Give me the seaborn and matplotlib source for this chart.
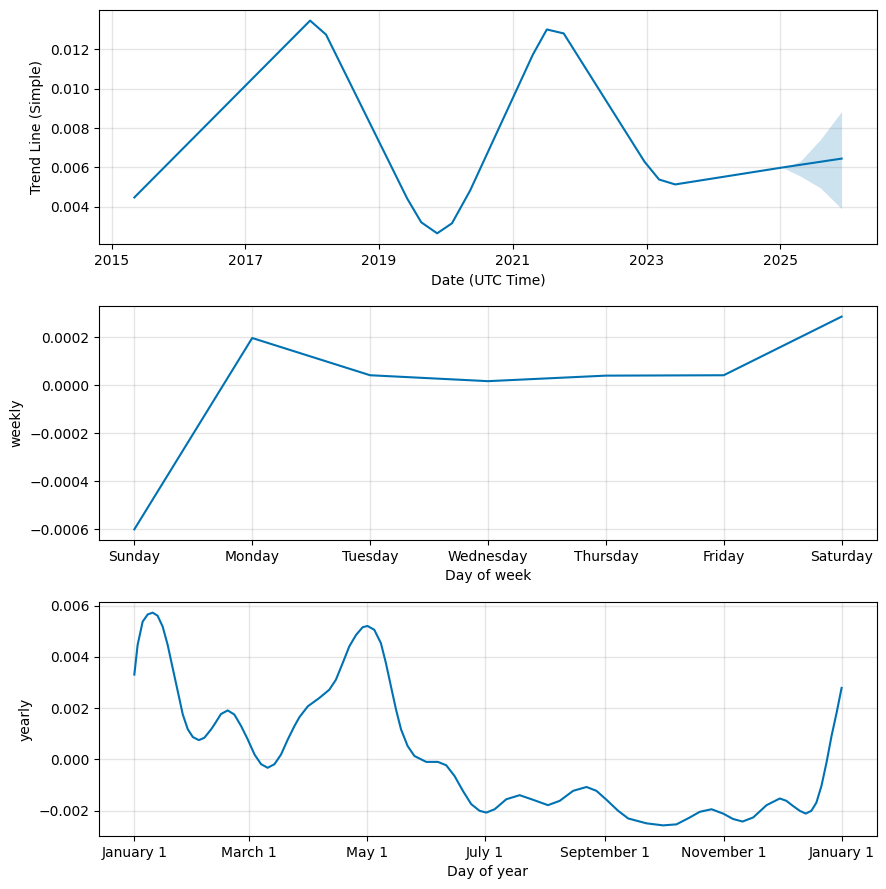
import matplotlib
matplotlib.use("Agg")
import matplotlib.pyplot as plt
import matplotlib.dates as mdates
from matplotlib.ticker import FuncFormatter
import pandas as pd
import seaborn as sns

# trend component (changepoint vertices)
trend_dates = ["2015-05-05", "2017-12-20", "2018-03-17", "2019-06-03", "2019-08-19",
               "2019-11-14", "2020-02-03", "2020-05-12", "2021-04-20", "2021-07-05",
               "2021-10-05", "2022-12-20", "2023-03-10", "2023-06-06", "2025-01-12",
               "2025-12-01"]
trend_vals = [0.00448, 0.01345, 0.01274, 0.00443, 0.00322,
              0.00266, 0.00317, 0.00483, 0.01173, 0.01300,
              0.01280, 0.00630, 0.00539, 0.00514, 0.00600,
              0.00645]
trend_ticks = ["2015", "2017", "2019", "2021", "2023", "2025"]

# forecast uncertainty band
band_dates = ["2025-01-12", "2025-02-25", "2025-04-20", "2025-08-08", "2025-12-01"]
band_upper = [0.00600, 0.00612, 0.00632, 0.00743, 0.00884]
band_lower = [0.00600, 0.00580, 0.00556, 0.00496, 0.00391]

# weekly component
week_days = ["Sunday", "Monday", "Tuesday", "Wednesday", "Thursday", "Friday", "Saturday"]
week_vals = [-0.000600, 0.000196, 0.0000411, 0.0000165, 0.0000395, 0.0000411, 0.000285]

# yearly component (day offset from Jan 1, value)
year_days = [0, 1.7, 4.3, 6.9, 9.5, 12, 14.6, 17.2, 19.8, 22.4, 25, 27.6, 30.2, 33.3,
             36.1, 39.6, 41.3, 44.7, 48.2, 51.6, 55.1, 58.5, 62, 65.4, 68.8, 72.3,
             75.7, 79.2, 82.6, 85.2, 89.5, 95.5, 100.6, 104, 107.5, 110.9, 114.4,
             117.8, 120.3, 123.8, 127.2, 129.8, 132.4, 135, 137.6, 141, 144.5, 150.6,
             156.6, 160.9, 165.2, 169.5, 173.8, 178.1, 181.6, 185.9, 191.9, 198.8,
             205.7, 213.4, 219.5, 226.4, 233.3, 238.4, 243.6, 249.6, 254.8, 257.3,
             264.2, 272.8, 279.7, 286.6, 291.7, 297.8, 303.8, 308.9, 313.8, 319.3,
             326.2, 333, 336.4, 339.8, 343.3, 346.4, 349.3, 351.9, 354.5, 357.1,
             359.7, 362.3, 364.9]
year_vals = [0.00331, 0.00447, 0.00538, 0.00566, 0.00573, 0.00561, 0.00519, 0.00447,
             0.00356, 0.00266, 0.00175, 0.00117, 0.00087, 0.00075, 0.00084, 0.00117,
             0.00136, 0.00177, 0.00191, 0.00175, 0.00130, 0.00078, 0.00019, -0.00019,
             -0.00033, -0.00019, 0.00019, 0.00078, 0.00130, 0.00165, 0.00207, 0.00240,
             0.00272, 0.00311, 0.00376, 0.00441, 0.00486, 0.00516, 0.00521, 0.00506,
             0.00454, 0.00376, 0.00285, 0.00195, 0.00117, 0.00052, 0.00013, -0.00010,
             -0.00010, -0.00023, -0.00065, -0.00123, -0.00175, -0.00201, -0.00208,
             -0.00195, -0.00156, -0.00140, -0.00158, -0.00179, -0.00162, -0.00123,
             -0.00108, -0.00123, -0.00158, -0.00201, -0.00231, -0.00236, -0.00250,
             -0.00258, -0.00254, -0.00227, -0.00205, -0.00195, -0.00212, -0.00233,
             -0.00243, -0.00227, -0.00179, -0.00153, -0.00162, -0.00182, -0.00201,
             -0.00212, -0.00201, -0.00169, -0.00104, -0.00013, 0.00091, 0.00181,
             0.00279]

LINE = "#0072B2"


def style_grid(ax):
    ax.grid(True, which="major", c="gray", ls="-", lw=1, alpha=0.2)


fig, axes = plt.subplots(3, 1, figsize=(8.86, 8.89), dpi=100)
fig.subplots_adjust(left=0.1117, right=0.9898, top=0.9888, bottom=0.0596, hspace=0.265)

# trend
ax = axes[0]
trend = pd.DataFrame({"ds": pd.to_datetime(trend_dates), "trend": trend_vals})
band = pd.DataFrame({"ds": pd.to_datetime(band_dates), "lo": band_lower, "hi": band_upper})
sns.lineplot(data=trend, x="ds", y="trend", color=LINE, ax=ax)
ax.fill_between(band["ds"], band["lo"], band["hi"], color=LINE, alpha=0.2, lw=0)
ax.set_xticks(pd.to_datetime(trend_ticks))
ax.xaxis.set_major_formatter(mdates.DateFormatter("%Y"))
style_grid(ax)
ax.set_xlabel("Date (UTC Time)")
ax.set_ylabel("Trend Line (Simple)")

# weekly
ax = axes[1]
weekly = pd.DataFrame({"i": range(len(week_days)), "weekly": week_vals})
sns.lineplot(data=weekly, x="i", y="weekly", color=LINE, ax=ax)
ax.set_xticks(range(len(week_days)))
ax.set_xticklabels(week_days)
style_grid(ax)
ax.set_xlabel("Day of week")
ax.set_ylabel("weekly")

# yearly
ax = axes[2]
yearly = pd.DataFrame({
    "ds": pd.Timestamp("2017-01-01") + pd.to_timedelta(year_days, unit="D"),
    "yearly": year_vals,
})
sns.lineplot(data=yearly, x="ds", y="yearly", color=LINE, ax=ax)
ax.xaxis.set_major_locator(mdates.MonthLocator(range(1, 13), bymonthday=1, interval=2))
ax.xaxis.set_major_formatter(
    FuncFormatter(lambda x, pos=None: "{dt:%B} {dt.day}".format(dt=mdates.num2date(x))))
style_grid(ax)
ax.set_xlabel("Day of year")
ax.set_ylabel("yearly")

fig.savefig("out.png", dpi=100, facecolor="w")
